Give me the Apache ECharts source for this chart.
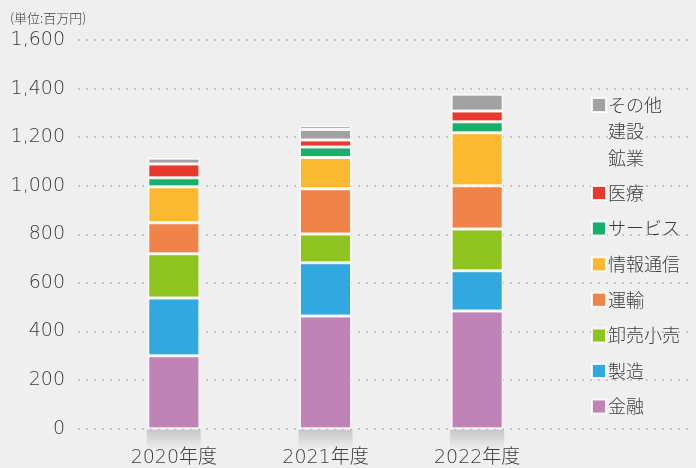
<!DOCTYPE html>
<html>
<head>
<meta charset="utf-8">
<script src="https://cdn.jsdelivr.net/npm/echarts@6/dist/echarts.min.js"></script>
<style>
html,body{margin:0;padding:0;background:#efefef;}
#c{width:696px;height:468px;}
</style>
</head>
<body>
<div id="c"></div>
<script>
const categories = ['2020年度', '2021年度', '2022年度'];
const yTicks = [0, 200, 400, 600, 800, 1000, 1200, 1400, 1600];
const kinyu    = [300, 464, 484];   // 金融
const seizo    = [238, 219, 166];   // 製造
const oroshi   = [182, 118, 172];   // 卸売小売
const unyu     = [128, 187, 178];   // 運輸
const joho     = [148, 128, 218];   // 情報通信
const service  = [37, 44, 45];      // サービス
const iryo     = [57, 28, 45];      // 医療
const kogyo    = [null, null, null];// 鉱業
const kensetsu = [null, 44, null];  // 建設
const sonota   = [23, 15, 69];      // その他

const FONT = '"Noto Sans CJK JP", "Noto Sans", sans-serif';
const NUMFONT = '"DejaVu Sans", "Noto Sans CJK JP", sans-serif';
const TXT = '#3c3c3c';

const seriesDefs = [
  {name: '金融', data: kinyu, color: '#bf83b6'},
  {name: '製造', data: seizo, color: '#31a8e0'},
  {name: '卸売小売', data: oroshi, color: '#8fc320'},
  {name: '運輸', data: unyu, color: '#ef8348'},
  {name: '情報通信', data: joho, color: '#fab931'},
  {name: 'サービス', data: service, color: '#1aae6b'},
  {name: '医療', data: iryo, color: '#e8392e'},
  {name: '鉱業', data: kogyo, color: '#a1a1a1'},
  {name: '建設', data: kensetsu, color: '#a1a1a1'},
  {name: 'その他', data: sonota, color: '#a1a1a1'}
];

const chart = echarts.init(document.getElementById('c'), null, {renderer: 'canvas'});

const barSeries = seriesDefs.map(s => ({
  name: s.name,
  type: 'bar',
  stack: 'total',
  xAxisIndex: 1,
  yAxisIndex: 1,
  barWidth: 52,
  data: s.data,
  z: 3,
  itemStyle: {color: s.color, borderColor: 'rgba(255,255,255,0.85)', borderWidth: 1.5},
  emphasis: {disabled: true}
}));

const shadowSeries = {
  type: 'custom',
  xAxisIndex: 1,
  yAxisIndex: 1,
  silent: true,
  clip: false,
  z: 1,
  data: categories.map((c, i) => [i, 0]),
  renderItem: function (params, api) {
    const p = api.coord([api.value(0), 0]);
    return {
      type: 'rect',
      shape: {x: p[0] - 27, y: p[1] + 1, width: 54, height: 20},
      style: {
        fill: new echarts.graphic.LinearGradient(0, 0, 0, 1, [
          {offset: 0, color: 'rgba(0,0,0,0.17)'},
          {offset: 1, color: 'rgba(0,0,0,0)'}
        ])
      }
    };
  }
};

const legendText = {fontFamily: FONT, fontSize: 18, fontWeight: 300, color: TXT, padding: [0, 0, 0, -3]};

chart.setOption({
  backgroundColor: '#efefef',
  animation: false,
  title: {
    text: '(単位:百万円)',
    left: 5, top: 7,
    textStyle: {fontFamily: FONT, fontSize: 13, fontWeight: 300, color: TXT}
  },
  legend: [
    {
      orient: 'vertical', left: 591, top: 96, padding: 0,
      itemWidth: 14, itemHeight: 14, itemGap: 8.5, icon: 'rect',
      selectedMode: false,
      textStyle: legendText,
      data: [
        {name: 'その他'},
        {name: '建設', itemStyle: {opacity: 0}},
        {name: '鉱業', itemStyle: {opacity: 0}}
      ]
    },
    {
      orient: 'vertical', left: 591, top: 184, padding: 0,
      itemWidth: 14, itemHeight: 14, itemGap: 17.6, icon: 'rect',
      selectedMode: false,
      textStyle: legendText,
      data: ['医療', 'サービス', '情報通信', '運輸', '卸売小売', '製造', '金融']
    }
  ],
  grid: [
    {left: 78, right: 6, top: 40, bottom: 39.3},
    {left: 98, right: 143, top: 40, bottom: 39.3}
  ],
  xAxis: [
    {gridIndex: 0, type: 'category', data: categories, show: false},
    {
      gridIndex: 1, type: 'category', data: categories,
      axisLine: {show: false}, axisTick: {show: false},
      axisLabel: {fontFamily: NUMFONT, fontSize: 19, fontWeight: 300, color: TXT, margin: 20}
    }
  ],
  yAxis: [
    {
      gridIndex: 0, type: 'value', min: 0, max: 1600, interval: 200,
      axisLine: {show: false}, axisTick: {show: false},
      axisLabel: {
        fontFamily: NUMFONT, fontSize: 19, fontWeight: 300, color: TXT, margin: 13,
        formatter: v => yTicks.includes(v) ? v.toLocaleString('en-US') : ''
      },
      splitLine: {lineStyle: {color: '#c4c4c4', width: 2, type: [2, 6], cap: 'butt'}}
    },
    {
      gridIndex: 1, type: 'value', min: 0, max: 1600, interval: 200,
      show: false, splitLine: {show: false}
    }
  ],
  series: [shadowSeries].concat(barSeries)
});
</script>
</body>
</html>
